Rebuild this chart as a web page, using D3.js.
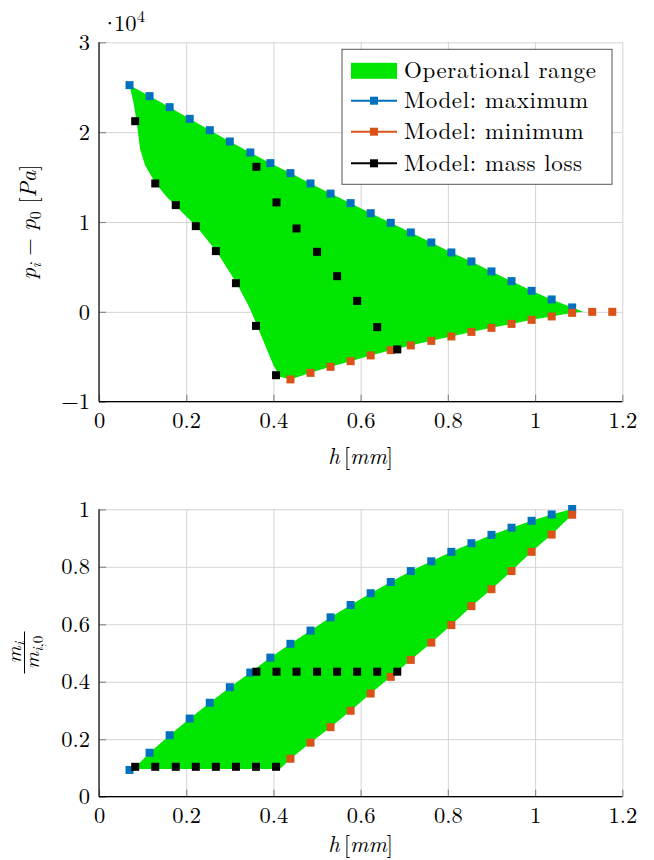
<!DOCTYPE html>
<html>
<head>
<meta charset="utf-8">
<script src="https://cdn.jsdelivr.net/npm/d3@7"></script>
<style>
  body { margin: 0; background: #fff; }
  .grid line { stroke: #d4d4d4; stroke-width: 1; }
  .grid path, .ticks path, .labels path { display: none; }
  .ticks line { stroke: #8c8c8c; stroke-width: 1.2; }
</style>
</head>
<body>
<svg id="viz" width="654" height="860"></svg>
<script>
// gap height h [mm] of the model points
var hMax = [0.070, 0.116, 0.162, 0.208, 0.254, 0.300, 0.347, 0.393, 0.439, 0.485, 0.531, 0.577,
            0.623, 0.669, 0.715, 0.762, 0.808, 0.854, 0.900, 0.946, 0.992, 1.038, 1.085]
var hMin = [0.439, 0.485, 0.531, 0.577, 0.623, 0.669, 0.715, 0.762, 0.808, 0.854, 0.900, 0.946,
            0.992, 1.038, 1.085, 1.131, 1.177]
var hLoss = [0.083, 0.129, 0.176, 0.222, 0.268, 0.314, 0.360, 0.406,
             0.361, 0.407, 0.453, 0.500, 0.546, 0.592, 0.638, 0.684]

// pressure difference p_i - p_0 [Pa]
var pMax = [25230, 24010, 22780, 21480, 20220, 18960, 17740, 16550, 15440, 14290, 13160, 12100,
            10980, 9910, 8840, 7720, 6610, 5610, 4500, 3420, 2340, 1380, 490]
var pMin = [-7520, -6790, -6120, -5490, -4850, -4260, -3740, -3230, -2740, -2230, -1780, -1340,
            -890, -510, -110, 0, 0]
var pLoss = [21220, 14290, 11880, 9540, 6760, 3190, -1560, -7050,
             16140, 12180, 9280, 6680, 3970, 1220, -1700, -4180]

// mass ratio m_i / m_i,0
var mMax = [0.093, 0.153, 0.214, 0.272, 0.327, 0.381, 0.432, 0.484, 0.532, 0.578, 0.624, 0.667,
            0.708, 0.747, 0.785, 0.819, 0.852, 0.882, 0.911, 0.936, 0.960, 0.982, 1.001]
var mMin = [0.132, 0.188, 0.242, 0.299, 0.359, 0.417, 0.476, 0.536, 0.597, 0.663, 0.722, 0.785,
            0.852, 0.912, 0.981]
var mLoss = [0.104, 0.104, 0.104, 0.104, 0.104, 0.104, 0.104, 0.104,
             0.435, 0.435, 0.435, 0.435, 0.435, 0.435, 0.435, 0.435]

// outline of the operational range that is not on the model points
var rangeTopTip = [[1.111, 0]]
var rangeTopLeft = [[0.415, -7230], [0.400, -5930], [0.362, -1480], [0.346, 380], [0.316, 3160],
                    [0.270, 6680], [0.224, 9460], [0.178, 11690], [0.155, 12800], [0.130, 14290],
                    [0.121, 15030], [0.1055, 16330], [0.094, 18190], [0.0864, 21150], [0.0787, 23370]]
var rangeBottomLeft = [[0.079, 0.096]]
var rangeBottomCorner = [[0.415, 0.096]]

var hTicks = [0, 0.2, 0.4, 0.6, 0.8, 1, 1.2]
var pTicks = [-10000, 0, 10000, 20000, 30000]
var mTicks = [0, 0.2, 0.4, 0.6, 0.8, 1]

var legendNames = ['Operational range', 'Model: maximum', 'Model: minimum', 'Model: mass loss']
var colors = { range: '#00e600', max: '#0072bd', min: '#d95319', loss: '#000000' }

const FONT = '"Latin Modern Roman", "Liberation Serif", serif'

let svg = d3.select('#viz')
let left = 99
let right = 622.3

function zip(xs, ys) {
  return xs.map((d, i) => [d, ys[i]])
}

function styleText(sel, size) {
  return sel.style('font-family', FONT).style('font-size', size + 'px').style('fill', '#000')
}

function panel(top, bottom, domain, ticks, fmt, series, range) {
  let xScale = d3.scaleLinear().domain([0, 1.2]).range([left, right])
  let yScale = d3.scaleLinear().domain(domain).range([bottom, top])
  let chart = svg.append('g')

  // grid lines
  chart.append('g')
    .attr('class', 'grid')
    .attr('transform', `translate(0, ${bottom})`)
    .call(d3.axisBottom(xScale).tickValues(hTicks).tickSize(-(bottom - top)).tickFormat(''))
  chart.append('g')
    .attr('class', 'grid')
    .attr('transform', `translate(${left}, 0)`)
    .call(d3.axisLeft(yScale).tickValues(ticks).tickSize(-(right - left)).tickFormat(''))

  // operational range
  let line = d3.line().x((d) => xScale(d[0])).y((d) => yScale(d[1]))
  chart.append('path')
    .attr('d', line(range) + 'Z')
    .attr('fill', colors.range)
    .attr('stroke', 'none')

  // inner tick marks
  chart.append('g')
    .attr('class', 'ticks')
    .attr('transform', `translate(0, ${bottom})`)
    .call(d3.axisBottom(xScale).tickValues(hTicks).tickSize(-7).tickFormat(''))
  chart.append('g')
    .attr('class', 'ticks')
    .attr('transform', `translate(${left}, 0)`)
    .call(d3.axisLeft(yScale).tickValues(ticks).tickSize(-7).tickFormat(''))

  // tick labels
  chart.append('g')
    .attr('class', 'labels')
    .attr('transform', `translate(0, ${bottom})`)
    .call(d3.axisBottom(xScale).tickValues(hTicks).tickSize(0).tickPadding(10).tickFormat((d) => String(d)))
  chart.append('g')
    .attr('class', 'labels')
    .attr('transform', `translate(${left}, 0)`)
    .call(d3.axisLeft(yScale).tickValues(ticks).tickSize(0).tickPadding(9).tickFormat(fmt))
  styleText(chart.selectAll('.labels text'), 22.5)

  // axis lines
  chart.append('line')
    .attr('x1', left).attr('x2', left).attr('y1', top).attr('y2', bottom)
    .attr('stroke', '#000').attr('stroke-width', 1.2)
  chart.append('line')
    .attr('x1', left).attr('x2', right).attr('y1', bottom).attr('y2', bottom)
    .attr('stroke', '#000').attr('stroke-width', 1.2)

  // model markers
  series.forEach((s) => {
    chart.selectAll()
      .data(s.points)
      .enter()
      .append('rect')
      .attr('x', (d) => xScale(d[0]) - 4)
      .attr('y', (d) => yScale(d[1]) - 4)
      .attr('width', 8)
      .attr('height', 8)
      .attr('fill', s.color)
  })

  return chart
}

// top panel: pressure
let maxTop = zip(hMax, pMax)
let minTop = zip(hMin, pMin)
let rangeTop = maxTop.concat(rangeTopTip, minTop.slice(0, 15).reverse(), rangeTopLeft)

let topChart = panel(42.3, 401.7, [-10000, 30000], pTicks,
  (d) => d < 0 ? '\u2212' + (-d / 10000) : String(d / 10000),
  [
    { points: maxTop, color: colors.max },
    { points: minTop, color: colors.min },
    { points: zip(hLoss, pLoss), color: colors.loss }
  ],
  rangeTop)

// bottom panel: mass
let maxBottom = zip(hMax, mMax)
let minBottom = zip(hMin.slice(0, 15), mMin)
let rangeBottom = rangeBottomLeft.concat(maxBottom.slice(1), minBottom.slice().reverse(), rangeBottomCorner)

panel(509.3, 796.7, [0, 1], mTicks, (d) => String(d),
  [
    { points: maxBottom, color: colors.max },
    { points: minBottom, color: colors.min },
    { points: zip(hLoss, mLoss), color: colors.loss }
  ],
  rangeBottom)

// scale factor above the top axis
styleText(svg.append('text').attr('x', 101).attr('y', 31), 22.5).text('\u00b7')
styleText(svg.append('text').attr('x', 114).attr('y', 31), 22.5).text('10')
styleText(svg.append('text').attr('x', 137).attr('y', 22), 16).text('4')

// x labels
function hLabel(y) {
  let t = styleText(svg.append('text'), 22.5)
    .attr('x', (left + right) / 2)
    .attr('y', y)
    .attr('text-anchor', 'middle')
  t.append('tspan').style('font-style', 'italic').text('h')
  t.append('tspan').attr('dx', 4).text('[')
  t.append('tspan').style('font-style', 'italic').text('mm')
  t.append('tspan').text(']')
}
hLabel(464)
hLabel(852)

// y label of the top panel
let yt = styleText(svg.append('text'), 22.5)
  .attr('transform', 'translate(36, 222) rotate(-90)')
  .attr('text-anchor', 'middle')
yt.append('tspan').style('font-style', 'italic').text('p')
yt.append('tspan').style('font-style', 'italic').style('font-size', '16px').attr('dy', 5).text('i')
yt.append('tspan').attr('dy', -5).text(' \u2212 ')
yt.append('tspan').style('font-style', 'italic').text('p')
yt.append('tspan').style('font-size', '16px').attr('dy', 5).text('0')
yt.append('tspan').attr('dy', -5).text(' [')
yt.append('tspan').style('font-style', 'italic').text('Pa')
yt.append('tspan').text(']')

// y label of the bottom panel: fraction
let fr = svg.append('g').attr('transform', 'translate(24.5, 652.5) rotate(-90)')
fr.append('line').attr('x1', -21).attr('x2', 21).attr('y1', 0).attr('y2', 0)
  .attr('stroke', '#000').attr('stroke-width', 1)
let num = styleText(fr.append('text'), 21).attr('x', 0).attr('y', -4).attr('text-anchor', 'middle')
num.append('tspan').style('font-style', 'italic').text('m')
num.append('tspan').style('font-style', 'italic').style('font-size', '15px').attr('dy', 4).text('i')
let den = styleText(fr.append('text'), 21).attr('x', 0).attr('y', 14).attr('text-anchor', 'middle')
den.append('tspan').style('font-style', 'italic').text('m')
den.append('tspan').style('font-style', 'italic').style('font-size', '15px').attr('dy', 4).text('i')
den.append('tspan').style('font-size', '15px').text(',0')

// legend
let legend = topChart.append('g')
legend.append('rect')
  .attr('x', 342).attr('y', 49.3).attr('width', 270).attr('height', 135)
  .attr('fill', '#fff').attr('stroke', '#555').attr('stroke-width', 1)
let rowY = [70.8, 100.7, 131.7, 163.3]
let rowColor = [colors.range, colors.max, colors.min, colors.loss]
legendNames.forEach((name, i) => {
  if (i === 0) {
    legend.append('rect')
      .attr('x', 351).attr('y', rowY[i] - 8).attr('width', 46).attr('height', 16)
      .attr('fill', rowColor[i])
  } else {
    legend.append('line')
      .attr('x1', 351).attr('x2', 397).attr('y1', rowY[i]).attr('y2', rowY[i])
      .attr('stroke', rowColor[i]).attr('stroke-width', 2)
    legend.append('rect')
      .attr('x', 374 - 4).attr('y', rowY[i] - 4).attr('width', 8).attr('height', 8)
      .attr('fill', rowColor[i])
  }
  styleText(legend.append('text'), 23)
    .attr('x', 404)
    .attr('y', rowY[i] + 7.5)
    .style('letter-spacing', '0.6px')
    .text(name)
})
</script>
</body>
</html>
